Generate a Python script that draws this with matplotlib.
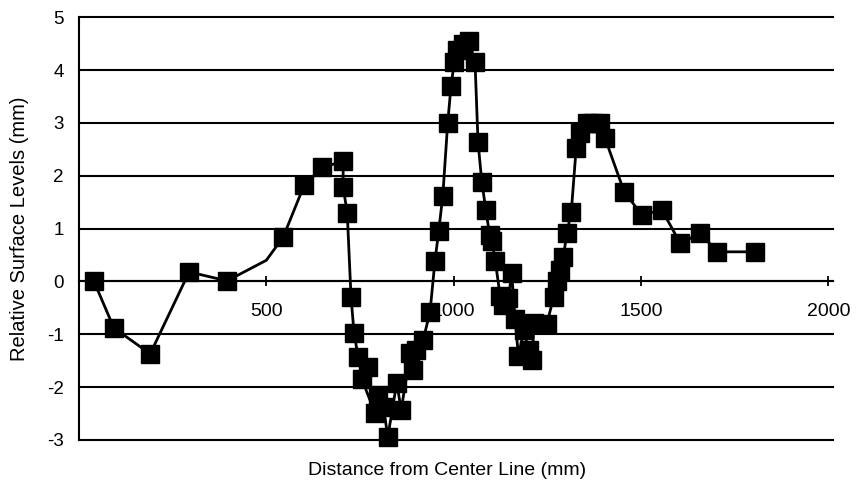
import numpy as np
import matplotlib.pyplot as plt

plt.rcParams['font.family'] = ['Liberation Sans', 'DejaVu Sans']
plt.rcParams['axes.unicode_minus'] = False

# distance from centre line (mm) and relative surface level (mm)
dist = [40, 93, 190, 294, 395, 500, 545, 601, 649, 705, 705, 716, 726, 734, 745,
        771, 755, 790, 799, 813, 824, 848, 860, 884, 892, 900, 919, 937, 950,
        960, 971, 984, 993, 1002, 1010, 1025, 1040, 1057, 1065, 1075, 1086,
        1096, 1102, 1111, 1124, 1133, 1146, 1155, 1164, 1173, 1187, 1200, 1209,
        1215, 1249, 1267, 1275, 1284, 1293, 1302, 1314, 1327, 1338, 1355, 1372,
        1391, 1404, 1455, 1502, 1556, 1605, 1658, 1704, 1805]
level = [0.0, -0.88, -1.37, 0.18, 0.01, 0.4, 0.84, 1.82, 2.16, 2.27, 1.79, 1.29,
         -0.29, -0.97, -1.43, -1.62, -1.85, -2.49, -2.15, -2.37, -2.95, -1.92,
         -2.43, -1.36, -1.67, -1.3, -1.1, -0.57, 0.38, 0.95, 1.62, 2.99, 3.7,
         4.16, 4.38, 4.5, 4.55, 4.16, 2.64, 1.89, 1.35, 0.88, 0.76, 0.39, -0.27,
         -0.45, -0.32, 0.15, -0.72, -1.42, -0.92, -1.3, -1.48, -0.78, -0.8, -0.29,
         0.0, 0.22, 0.47, 0.91, 1.32, 2.52, 2.8, 3.0, 3.0, 3.0, 2.71, 1.7, 1.26,
         1.35, 0.72, 0.91, 0.56, 0.56]
# the curve bend at 500 mm carries no marker
no_marker = [5]

x_ticks = [500, 1000, 1500, 2000]
y_ticks = [-3, -2, -1, 0, 1, 2, 3, 4, 5]

fig = plt.figure(figsize=(8.57, 4.86), dpi=100)
ax = fig.add_axes([0.0922, 0.0947, 0.880, 0.870])

for y in y_ticks:
    ax.axhline(y, color='black', lw=1.5, zorder=1, clip_on=False)

marks = [i for i in range(len(dist)) if i not in no_marker]
ax.plot(dist, level, color='black', lw=2, marker='s', ms=12.5,
        markevery=marks, zorder=3, clip_on=False)

ax.set_xlim(0, 2013)
ax.set_ylim(-3, 5)

ax.spines['right'].set_visible(False)
ax.spines['top'].set_visible(False)
ax.spines['bottom'].set_position(('data', 0))
ax.spines['bottom'].set_linewidth(1.5)
ax.spines['left'].set_linewidth(1.5)

ax.set_xticks(x_ticks)
ax.set_xticklabels([str(v) for v in x_ticks])
ax.tick_params(axis='x', direction='inout', length=7, width=1.3, pad=12, labelsize=14)
ax.set_yticks(y_ticks)
ax.tick_params(axis='y', length=0, pad=11, labelsize=13.5)

ax.set_xlabel('Distance from Center Line (mm)', fontsize=14)
ax.xaxis.set_label_coords(0.488, -0.052)
ax.set_ylabel('Relative Surface Levels (mm)', fontsize=14.5, labelpad=13)

fig.savefig('out.png', dpi=100)
